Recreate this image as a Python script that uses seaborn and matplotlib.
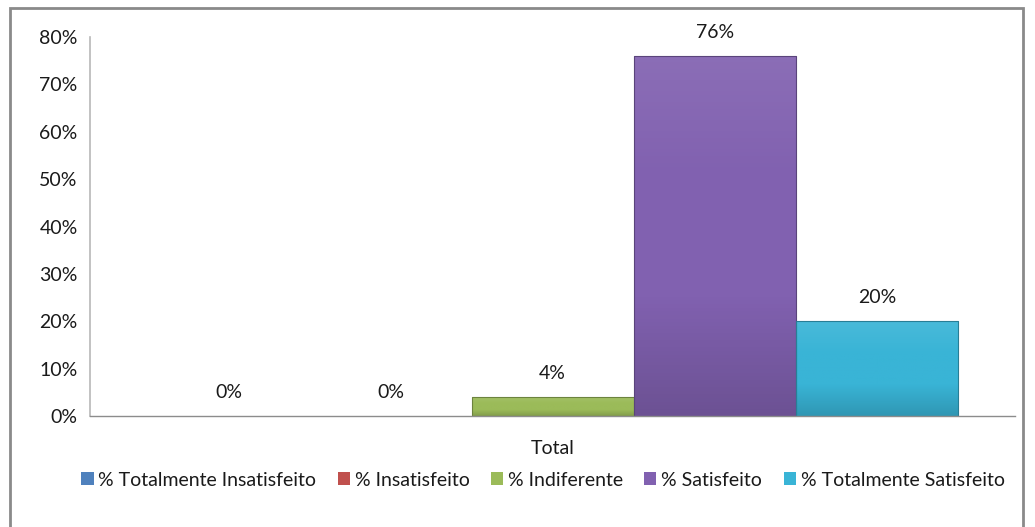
import numpy as np
import pandas as pd
import matplotlib
matplotlib.use("Agg")
import matplotlib.pyplot as plt
import seaborn as sns
from matplotlib.patches import Rectangle
from matplotlib.colors import LinearSegmentedColormap, to_rgb

categories = ["Total"]
series = ["% Totalmente Insatisfeito", "% Insatisfeito", "% Indiferente",
          "% Satisfeito", "% Totalmente Satisfeito"]
values = [0.00, 0.00, 0.04, 0.76, 0.20]
labels = ["0%", "0%", "4%", "76%", "20%"]
yticks = [0, 0.1, 0.2, 0.3, 0.4, 0.5, 0.6, 0.7, 0.8]
colors = ["#4F81BD", "#C0504D", "#9BBB59", "#8161B0", "#39B4D6"]

df = pd.DataFrame({"cat": categories * len(series), "series": series, "val": values})

sns.set_theme(style="white")
plt.rcParams["font.family"] = ["Lato", "DejaVu Sans"]

fig = plt.figure(figsize=(10.35, 5.27), dpi=100)
ax = fig.add_axes([0.087, 0.2106, 0.894, 0.7192])

sns.barplot(data=df, x="cat", y="val", hue="series", hue_order=series,
            palette=colors, width=0.876, ax=ax, legend=True, saturation=1,
            edgecolor="none")

ax.set_xlim(-0.5, 0.5)
ax.set_ylim(0, 0.8)
ax.set_yticks(yticks)
ax.set_yticklabels([f"{int(round(t*100))}%" for t in yticks], fontsize=14, color="#1a1a1a")
ax.set_xticks([0])
ax.set_xticklabels(categories, fontsize=14, color="#1a1a1a")
ax.tick_params(axis="x", pad=17, length=0)
ax.tick_params(axis="y", pad=9, length=0)
ax.set_xlabel("")
ax.set_ylabel("")
for s in ["top", "right"]:
    ax.spines[s].set_visible(False)
ax.spines["left"].set_color("#B8B8B8")
ax.spines["bottom"].set_color("#8C8C8C")
ax.spines["left"].set_linewidth(1.2)
ax.spines["bottom"].set_linewidth(1.0)

# gradient / bevel effect on bars
bars = [p for p in ax.patches if isinstance(p, Rectangle) and p.get_width() > 0 and p.get_height() >= 0][:len(series)]
for bar, col, lab in zip(bars, colors, labels):
    x0, y0 = bar.get_x(), bar.get_y()
    w, h = bar.get_width(), bar.get_height()
    if h > 0:
        c = np.array(to_rgb(col))
        dark = np.clip(c * 0.84, 0, 1)
        light = np.clip(c + (1 - c) * 0.08, 0, 1)
        cmap = LinearSegmentedColormap.from_list("g", [dark, c, c, light])
        grad = np.linspace(0, 1, 100).reshape(-1, 1)
        im = ax.imshow(grad, cmap=cmap, aspect="auto", origin="lower",
                       extent=[x0, x0 + w, y0, y0 + h], zorder=bar.get_zorder() + 0.1)
        im.set_clip_path(bar)
        ax.add_patch(Rectangle((x0, y0), w, h, fill=False,
                               edgecolor=tuple(np.clip(c * 0.7, 0, 1)),
                               linewidth=0.8, zorder=bar.get_zorder() + 0.2))
    ax.annotate(lab, (x0 + w / 2, y0 + h), xytext=(0, 11), textcoords="offset points",
                ha="center", va="bottom", fontsize=14, color="#1a1a1a")

ax.set_xlim(-0.5, 0.5)
ax.set_ylim(0, 0.8)

leg = ax.legend(loc="center", bbox_to_anchor=(543 / 1035, 1 - 480 / 527),
                bbox_transform=fig.transFigure, ncol=5, frameon=False,
                fontsize=14, handlelength=0.62, handleheight=0.62,
                handletextpad=0.25, columnspacing=1.1, labelcolor="#1a1a1a")

# outer chart border
fig.patches.append(Rectangle((10 / 1035, -0.02), 1013 / 1035, 1 - 8 / 527 + 0.02,
                             transform=fig.transFigure, fill=False,
                             edgecolor="#8A8A8A", linewidth=2))

fig.savefig("out.png", dpi=100)
